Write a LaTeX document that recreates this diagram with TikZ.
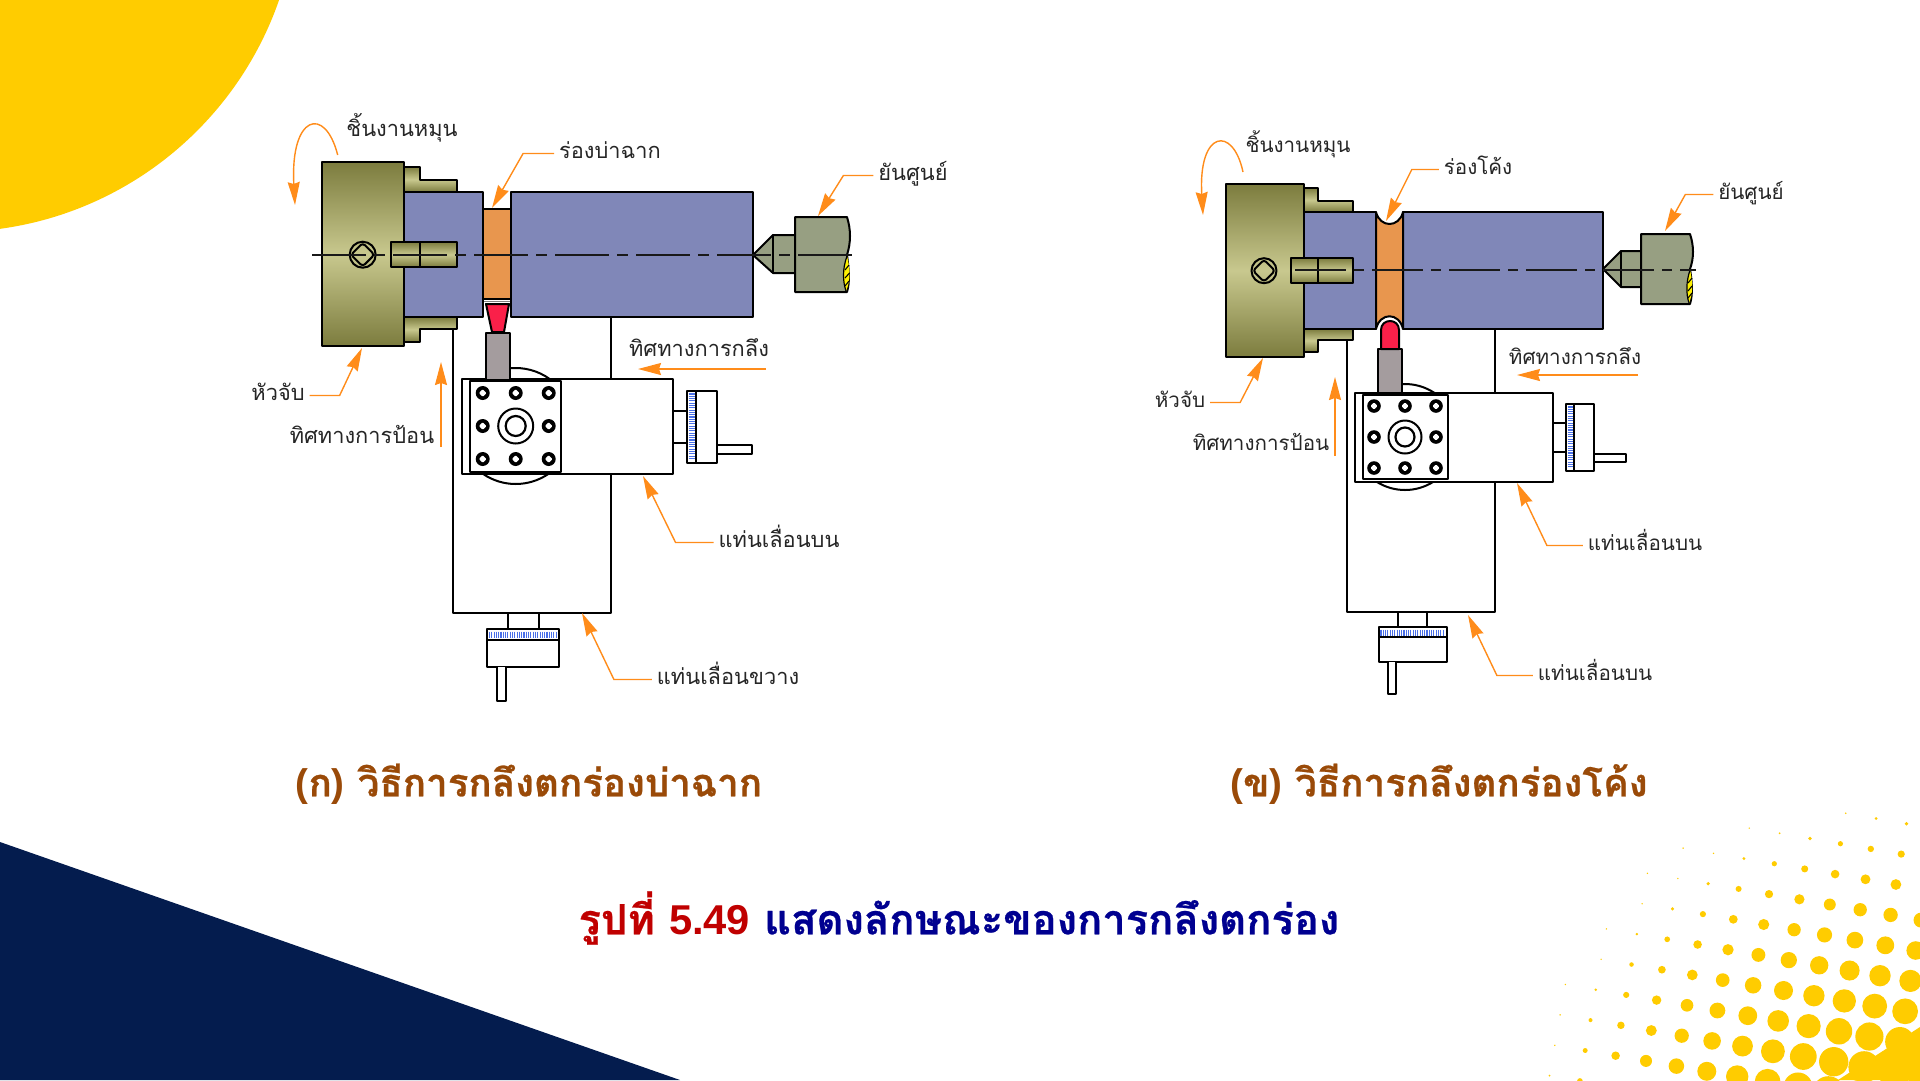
\documentclass[tikz,border=0pt]{standalone}
\usepackage{fontspec}
\setmainfont[Script=Thai,BoldFeatures={FakeBold=0.6}]{Loma}
\newfontfamily\latinfont{Liberation Sans}
\usepackage{xcolor}
\usepackage{tikz}
\usetikzlibrary{arrows.meta, positioning, calc}
\definecolor{sunyellow}{HTML}{FFCC00}
\definecolor{deepnavy}{HTML}{041C4E}
\definecolor{leaderorange}{HTML}{FF8C1A}
\definecolor{chuckdark}{HTML}{7C7C3E}
\definecolor{chucklight}{HTML}{C8C88E}
\definecolor{workblue}{HTML}{8087B8}
\definecolor{grooveorange}{HTML}{E8964E}
\definecolor{toolred}{HTML}{FA2049}
\definecolor{holdergray}{HTML}{A49C9E}
\definecolor{tailgreen}{HTML}{979F82}
\definecolor{knurlblue}{HTML}{4A70E8}
\definecolor{captionbrown}{HTML}{9A4A08}
\definecolor{titlered}{HTML}{C00000}
\definecolor{titlenavy}{HTML}{000090}
\tikzset{
  part/.style={draw=black, line width=2pt, line join=round},
  chuckpart/.style={part, top color=chuckdark, bottom color=chuckdark, middle color=chucklight},
  workpart/.style={part, fill=workblue},
  groovepart/.style={part, fill=grooveorange},
  toolpart/.style={part, fill=toolred},
  holderpart/.style={part, fill=holdergray},
  tailpart/.style={part, fill=tailgreen},
  slidepart/.style={part, fill=white},
  knurl/.style={knurlblue, line width=1.1pt},
  axisline/.style={black!90, line width=1.8pt},
  axisleft/.style={axisline, dash pattern=on 54pt off 8pt on 11pt off 8pt},
  axisright/.style={axisline, dash pattern=on 51pt off 8pt on 10pt off 8pt},
  leader/.style={leaderorange, line width=1.4pt, -{Stealth[length=23pt, width=12pt, inset=2pt]}},
  callout/.style={inner sep=0pt, outer sep=5pt, yshift=-3.5pt, text=black!85, text height=15pt, text depth=6pt, font=\fontsize{21.8}{26}\selectfont},
  calloutB/.style={callout, font=\fontsize{20.6}{25}\selectfont},
  caption/.style={inner sep=0pt, text=captionbrown, font=\fontsize{38.5}{44}\selectfont\bfseries},
  headline/.style={inner sep=0pt, font=\fontsize{41.7}{48}\selectfont\bfseries},
}
\begin{document}
\begin{tikzpicture}[x=1pt, y=-1pt]
\useasboundingbox (0,0) rectangle (1920,1080);
\fill[white] (0,0) rectangle (1920,1080);

\begin{scope}
\clip (0,0) rectangle (1920,1080);
\fill[sunyellow] (-47,-113) circle (345);
\fill[deepnavy] (0,842) -- (680,1080) -- (0,1080) -- cycle;
\fill[sunyellow] (1838,1080) -- (1889,1047) -- (1920,1027) -- (1920,1080) -- cycle;
\foreach \j/\imin in {0/0,1/-3,2/-5,3/-6,4/-6,5/-7,6/-7,7/-8,8/-8,9/-8,10/-8,11/-8} {
  \foreach \i in {\imin,...,4} {
    \pgfmathsetmacro{\dotx}{1845.7+30.4*\i-5.3*\j}
    \pgfmathsetmacro{\doty}{813.3+5.2*\i+30.4*\j}
    \pgfmathsetmacro{\dotr}{max(0.8,(390-veclen(\dotx-1907,\doty-1183))*0.059)}
    \fill[sunyellow] (\dotx,\doty) circle (\dotr);
  }
}
\end{scope}

% left lathe
\draw[slidepart] (453,329) -- (453,613) -- (611,613) -- (611,317);
\draw[part] (515.7,426) ++(-54:58) arc (-54:-96:58);
\draw[part] (515.7,426) ++(55.8:58) arc (55.8:124.2:58);
\draw[part] (508,613) -- (508,629) (539,613) -- (539,629);
\draw[slidepart] (487,629) rectangle (559,667);
\foreach \k in {0,...,29} {
  \draw[knurl] (489.5+2.3*\k,631.5) -- (489.5+2.3*\k,638);
}
\draw[part] (487,640) -- (559,640);
\draw[slidepart] (497,667) -- (497,701) -- (506,701) -- (506,667);
\draw[part] (673,411) -- (687,411) (673,443) -- (687,443);
\draw[slidepart] (717,445) rectangle (752,454);
\draw[slidepart] (687,391) rectangle (717,463);
\foreach \k in {0,...,28} {
  \draw[knurl] (688.5,394+2.3*\k) -- (695,394+2.3*\k);
}
\draw[part] (696,391) -- (696,463);
\draw[slidepart] (462,379) rectangle (673,474);
\draw[holderpart] (486,333) rectangle (510,380);
\draw[slidepart] (470,381) rectangle (561,472);
\foreach \x/\y in {482.7/393,515.7/393,548.7/393,482.7/426,548.7/426,482.7/459,515.7/459,548.7/459} {
  \fill (\x,\y) circle (7);
  \fill[white, rounded corners=1pt] (\x-3.8,\y) -- (\x,\y-3.8) -- (\x+3.8,\y) -- (\x,\y+3.8) -- cycle;
}
\draw[part] (515.7,426) circle (17.5);
\draw[part, line width=2.2pt] (515.7,426) circle (10);

\draw[chuckpart] (404,167) -- (420,167) -- (420,180) -- (457,180) -- (457,192) -- (404,192) -- cycle;
\draw[chuckpart] (404,317) -- (457,317) -- (457,329) -- (420,329) -- (420,342) -- (404,342) -- cycle;
\draw[workpart] (404,192) rectangle (483,317);
\draw[workpart] (511,192) rectangle (753,317);
\draw[groovepart] (483,209) rectangle (511,299);
\draw[black!50, line width=1pt] (484,301.5) -- (510,301.5);
\draw[toolpart] (486,304) -- (509,304) -- (504,332) -- (492,332) -- cycle;
\draw[chuckpart] (322,162) rectangle (404,346);
\draw[chuckpart] (391,242) rectangle (457,267);
\draw[part] (420,242) -- (420,267);
\draw[part] (362.7,254.7) circle (13);
\draw[part, rounded corners=3pt] (351,254.7) -- (362.7,243) -- (374.4,254.7) -- (362.7,266.4) -- cycle;
\draw[tailpart] (753,255) -- (773,235) -- (795,235) -- (795,273) -- (773,273) -- cycle;
\draw[part] (773,235) -- (773,273);
\draw[tailpart] (795,217) -- (847,217) .. controls (851,230) and (851,242) .. (847,255) .. controls (849,270) and (850,282) .. (847,292) -- (795,292) -- cycle;
\fill[yellow] (847,256) .. controls (842,270) and (843,282) .. (846,291) .. controls (851,280) and (850,268) .. (847,256) -- cycle;
\draw[black, line width=1.1pt] (845,270) -- (849,265) (845,278) -- (849.5,273) (845,286) -- (849,281);
\draw[part, line width=1.2pt] (847,256) .. controls (842,270) and (843,282) .. (846,291);
\draw[axisleft] (312,254.7) -- (853,254.7);

% right lathe
\draw[slidepart] (1347,340) -- (1347,612) -- (1495,612) -- (1495,329);
\draw[part] (1405,437) ++(-56:53) arc (-56:-93:53);
\draw[part] (1405,437) ++(58:53) arc (58:122:53);
\draw[part] (1398,612) -- (1398,627) (1427,612) -- (1427,627);
\draw[slidepart] (1379,627) rectangle (1447,662);
\foreach \k in {0,...,27} {
  \draw[knurl] (1381+2.3*\k,629.5) -- (1381+2.3*\k,635.5);
}
\draw[part] (1379,637) -- (1447,637);
\draw[slidepart] (1388,662) -- (1388,694) -- (1396,694) -- (1396,662);
\draw[part] (1553,423) -- (1566,423) (1553,452) -- (1566,452);
\draw[slidepart] (1594,454) rectangle (1626,462);
\draw[slidepart] (1566,404) rectangle (1594,471);
\foreach \k in {0,...,26} {
  \draw[knurl] (1567.5,407+2.3*\k) -- (1573,407+2.3*\k);
}
\draw[part] (1574,404) -- (1574,471);
\draw[slidepart] (1355,393) rectangle (1553,482);
\draw[holderpart] (1378,349) rectangle (1402,393);
\draw[slidepart] (1363,395) rectangle (1448,479);
\foreach \x/\y in {1374/406,1405/406,1436/406,1374/437,1436/437,1374/468,1405/468,1436/468} {
  \fill (\x,\y) circle (6.8);
  \fill[white, rounded corners=1pt] (\x-3.6,\y) -- (\x,\y-3.6) -- (\x+3.6,\y) -- (\x,\y+3.6) -- cycle;
}
\draw[part] (1405,437) circle (16.5);
\draw[part, line width=2.2pt] (1405,437) circle (9.5);

\draw[chuckpart] (1304,188) -- (1318,188) -- (1318,201) -- (1353,201) -- (1353,212) -- (1304,212) -- cycle;
\draw[chuckpart] (1304,329) -- (1353,329) -- (1353,340) -- (1318,340) -- (1318,352) -- (1304,352) -- cycle;
\draw[workpart] (1304,212) rectangle (1376,329);
\draw[workpart] (1403,212) rectangle (1603,329);
\draw[groovepart] (1376,212) .. controls (1380,228) and (1399,228) .. (1403,212) -- (1403,329) .. controls (1399,312) and (1380,312) .. (1376,329) -- cycle;
\draw[toolpart] (1381,349) -- (1381,330) .. controls (1381,318) and (1399,318) .. (1399,330) -- (1399,349) -- cycle;
\draw[chuckpart] (1226,184) rectangle (1304,357);
\draw[chuckpart] (1291,258) rectangle (1353,283);
\draw[part] (1318,258) -- (1318,283);
\draw[part] (1264,270.7) circle (12.5);
\draw[part, rounded corners=3pt] (1253,270.7) -- (1264,259.7) -- (1275,270.7) -- (1264,281.7) -- cycle;
\draw[tailpart] (1603,269) -- (1621,251) -- (1641,251) -- (1641,287) -- (1621,287) -- cycle;
\draw[part] (1621,251) -- (1621,287);
\draw[tailpart] (1641,234) -- (1690,234) .. controls (1694,246) and (1694,258) .. (1690,269) .. controls (1692,282) and (1693,294) .. (1690,304) -- (1641,304) -- cycle;
\fill[yellow] (1690,270) .. controls (1686,282) and (1686,294) .. (1689,303) .. controls (1693,294) and (1693,282) .. (1690,270) -- cycle;
\draw[black, line width=1.1pt] (1688,283) -- (1692,278) (1688,291) -- (1692,286) (1688,298) -- (1692,293);
\draw[part, line width=1.2pt] (1690,270) .. controls (1686,282) and (1686,294) .. (1689,303);
\draw[axisright] (1295,269.7) -- (1696,269.7);

% left labels
\node[callout] (spinA) at (402,128) {ชิ้นงานหมุน};
\node[callout] (grooveA) at (610,150) {ร่องบ่าฉาก};
\node[callout] (centerA) at (913,172) {ยันศูนย์};
\node[callout] (chuckA) at (278,392) {หัวจับ};
\node[callout] (feedA) at (362,435) {ทิศทางการป้อน};
\node[callout] (cutA) at (699,348) {ทิศทางการกลึง};
\node[callout] (topslideA) at (779,539) {แท่นเลื่อนบน};
\node[callout] (crossslideA) at (728,676) {แท่นเลื่อนขวาง};

\coordinate (grooveAtip) at (492,208);
\coordinate (centerAtip) at (818,216);
\coordinate (chuckAtip) at (362,348);
\coordinate (topslideAtip) at (643,476);
\coordinate (crossslideAtip) at (582,613);

\draw[leader] (337.7,155) .. controls (325,105) and (290,115) .. (295,205);
\draw[leader] (grooveA.west) -- ++(-31,0) -- (grooveAtip);
\draw[leader] (centerA.west) -- ++(-30,0) -- (centerAtip);
\draw[leader] (chuckA.east) -- ++(30,0) -- (chuckAtip);
\draw[leader] (topslideA.west) -- ++(-38,0) -- (topslideAtip);
\draw[leader] (crossslideA.west) -- ++(-38,0) -- (crossslideAtip);
\draw[leader] (441,447) -- (441,362);
\draw[leader] (766,369) -- (638,369);

% right labels
\node[calloutB] (spinB) at (1298,144) {ชิ้นงานหมุน};
\node[calloutB] (grooveB) at (1478,166) {ร่องโค้ง};
\node[calloutB] (centerB) at (1751,191) {ยันศูนย์};
\node[calloutB] (chuckB) at (1180,399) {หัวจับ};
\node[calloutB] (feedB) at (1261,442) {ทิศทางการป้อน};
\node[calloutB] (cutB) at (1575,356) {ทิศทางการกลึง};
\node[calloutB] (topslideB) at (1645,542) {แท่นเลื่อนบน};
\node[calloutB] (crossslideB) at (1595,672) {แท่นเลื่อนบน};

\coordinate (grooveBtip) at (1386,221);
\coordinate (centerBtip) at (1665,231);
\coordinate (chuckBtip) at (1263,358);
\coordinate (topslideBtip) at (1517,483);
\coordinate (crossslideBtip) at (1468,615);

\draw[leader] (1243,172) .. controls (1233,125) and (1198,130) .. (1203,215);
\draw[leader] (grooveB.west) -- ++(-27,0) -- (grooveBtip);
\draw[leader] (centerB.west) -- ++(-28,0) -- (centerBtip);
\draw[leader] (chuckB.east) -- ++(30,0) -- (chuckBtip);
\draw[leader] (topslideB.west) -- ++(-36,0) -- (topslideBtip);
\draw[leader] (crossslideB.west) -- ++(-36,0) -- (crossslideBtip);
\draw[leader] (1335,456) -- (1335,377);
\draw[leader] (1638,375) -- (1517,375);

\node[caption] (captionA) at (529,784) {{\latinfont (}ก{\latinfont )} วิธีการกลึงตกร่องบ่าฉาก};
\node[caption] (captionB) at (1439,784) {{\latinfont (}ข{\latinfont )} วิธีการกลึงตกร่องโค้ง};
\node[headline] (figtitle) at (959,918) {\textcolor{titlered}{รูปที่ {\latinfont 5.49}} \textcolor{titlenavy}{แสดงลักษณะของการกลึงตกร่อง}};
\end{tikzpicture}
\end{document}
